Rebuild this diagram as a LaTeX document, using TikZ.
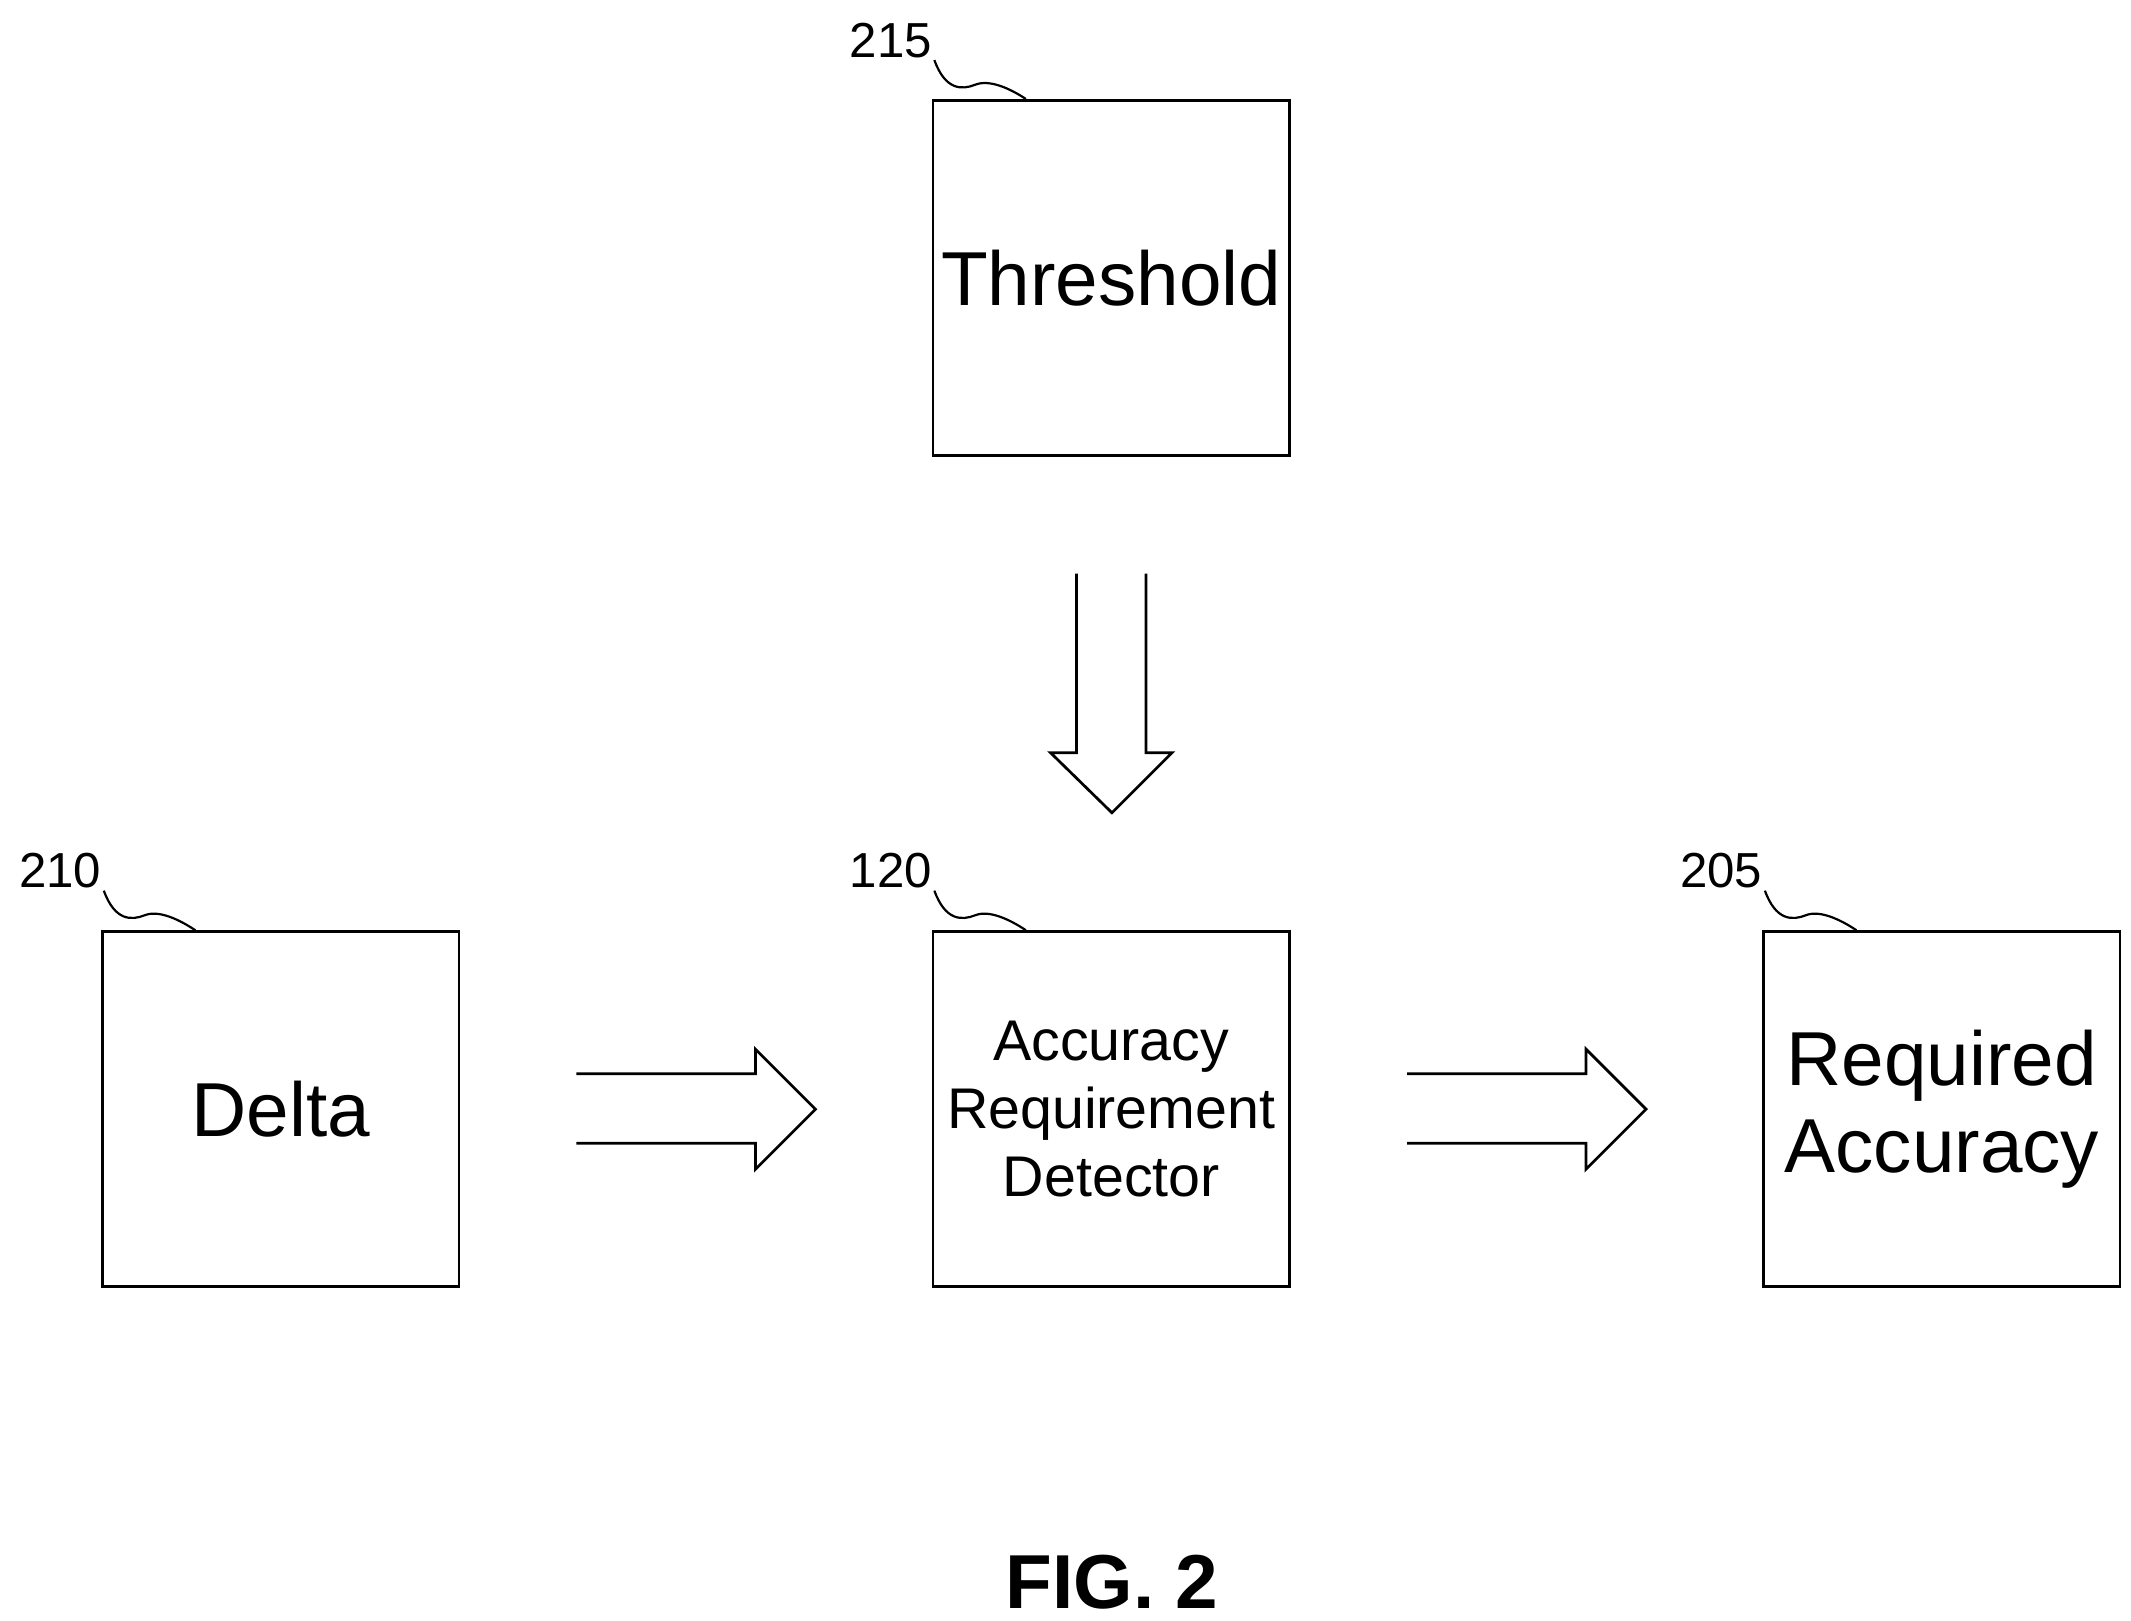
\documentclass[tikz,border=0pt]{standalone}
\usepackage{fontspec}
\setmainfont{Liberation Sans}
\begin{document}
\begin{tikzpicture}[x=0.5pt,y=0.5pt,yscale=-1,xscale=1]
    \tikzset{block/.style={draw,line width=1pt,minimum width=130.5pt,minimum height=130pt,inner sep=0pt,align=center},
      refnum/.style={font=\fontsize{18}{18}\selectfont,inner sep=0.75pt},
      fat/.style={draw,line width=1pt,line join=miter}}
    \useasboundingbox (0,0) rectangle (1560,1186);

    % Blocks
    \node [block,font=\fontsize{28}{28}\selectfont] (thr) at (813.5,203.5) {Threshold};
    \node [block,font=\fontsize{28}{28}\selectfont] (delta) at (205.5,812) {Delta};
    \node [block,font=\fontsize{21}{25}\selectfont] (ard) at (813.5,812) {Accuracy\\Requirement\\Detector};
    \node [block,font=\fontsize{28}{32}\selectfont] (req) at (1421.5,812) {Required\\Accuracy};

    % Reference numerals
    \node [refnum,anchor=south east] (n215) at (684,44) {215};
    \node [refnum,anchor=south east] (n210) at (76,652) {210};
    \node [refnum,anchor=south east] (n120) at (684,652) {120};
    \node [refnum,anchor=south east] (n205) at (1292,652) {205};
    \foreach \n/\b in {n215/thr,n210/delta,n120/ard,n205/req}{
      \draw [line width=0.8pt] (\n.south east) .. controls +(8,22) and +(-10,4) .. ++(30,18)
        .. controls +(10,-4) and +(-12,-8) .. ([xshift=69pt*0.5/0.5*0.5]\b.north west);
    }

    % Fat arrows
    \draw [fat] (788,420) -- (788,551) -- (769,551) -- (814,595) -- (858,551) -- (839,551) -- (839,420);
    \draw [fat] (422,786) -- (553,786) -- (553,768) -- (597,812) -- (553,856) -- (553,837) -- (422,837);
    \draw [fat] (1030,786) -- (1161,786) -- (1161,768) -- (1205,812) -- (1161,856) -- (1161,837) -- (1030,837);

    % Caption
    \node [font=\bfseries\fontsize{28}{28}\selectfont] (fig) at (814,1158) {FIG. 2};
\end{tikzpicture}
\end{document}
